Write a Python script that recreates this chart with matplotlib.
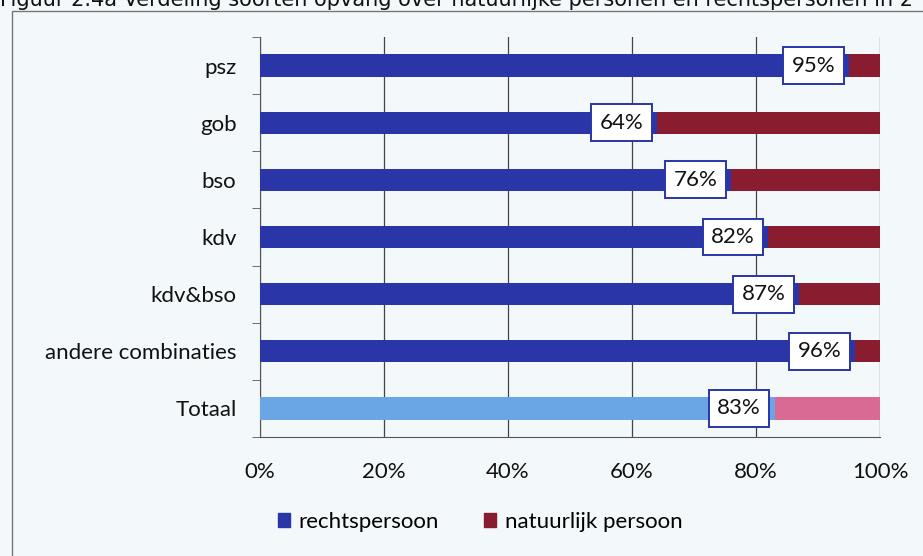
import matplotlib.pyplot as plt
from matplotlib.patches import Rectangle

categories = ['psz', 'gob', 'bso', 'kdv', 'kdv&bso', 'andere combinaties', 'Totaal']
rechtspersoon = [95, 64, 76, 82, 87, 96, 83]
natuurlijk = [5, 36, 24, 18, 13, 4, 17]

blue = '#2a35a8'
red = '#8a1c30'
light_blue = '#6aa6e6'
pink = '#d96a93'
bg = '#f3f8fb'

plt.rcParams['font.family'] = ['Lato', 'DejaVu Sans']

fig = plt.figure(figsize=(9.23, 5.56), dpi=100, facecolor=bg)
ax = fig.add_axes([260 / 923, 1 - 437 / 556, 620 / 923, 400 / 556])
ax.set_facecolor(bg)

y = list(range(len(categories)))
c1 = [blue] * (len(categories) - 1) + [light_blue]
c2 = [red] * (len(categories) - 1) + [pink]
ax.barh(y, rechtspersoon, height=0.39, color=c1, zorder=3)
ax.barh(y, natuurlijk, left=rechtspersoon, height=0.39, color=c2, zorder=3)

for yi, v in zip(y, rechtspersoon):
    ax.text(v - 2.2, yi, f'{v}%', ha='right', va='center', fontsize=16, color='#111111', zorder=5,
            bbox=dict(boxstyle='square,pad=0.38', fc='white', ec='#2a35a8', lw=1.4))

ax.set_xlim(0, 100)
ax.set_ylim(len(categories) - 0.5, -0.5)
ax.set_xticks([0, 20, 40, 60, 80, 100])
ax.set_xticklabels(['0%', '20%', '40%', '60%', '80%', '100%'], fontsize=16, color='#111111')
ax.set_yticks(y)
ax.set_yticklabels(categories, fontsize=16, color='#111111')
ax.set_yticks([i - 0.5 for i in range(len(categories) + 1)], minor=True)
ax.tick_params(axis='y', which='major', length=0, pad=17)
ax.tick_params(axis='y', which='minor', length=6, color='#555555')
ax.tick_params(axis='x', length=0, pad=18)
ax.grid(axis='x', color='#444444', lw=0.9, zorder=0)
for s in ['top', 'right']:
    ax.spines[s].set_visible(False)
ax.spines['left'].set_color('#555555')
ax.spines['bottom'].set_color('#555555')

handles = [Rectangle((0, 0), 1, 1, color=blue), Rectangle((0, 0), 1, 1, color=red)]
fig.legend(handles, ['rechtspersoon', 'natuurlijk persoon'], loc='center', bbox_to_anchor=(480 / 923, 1 - 522 / 556),
           ncol=2, frameon=False, fontsize=16, handlelength=0.55, handleheight=0.55, columnspacing=2.0,
           handletextpad=0.4)

fig.patches.append(Rectangle((12 / 923, -0.05), 1.1, 1 - 11 / 556 + 0.05, transform=fig.transFigure,
                             fill=False, ec='#777777', lw=1.0))
fig.text(0.0, 1 - 6 / 556, 'Figuur 2.4a Verdeling soorten opvang over natuurlijke personen en rechtspersonen in 2',
         family='DejaVu Sans', fontsize=15, va='baseline', ha='left', color='#111111')

fig.savefig('out.png', dpi=100, facecolor=bg)
